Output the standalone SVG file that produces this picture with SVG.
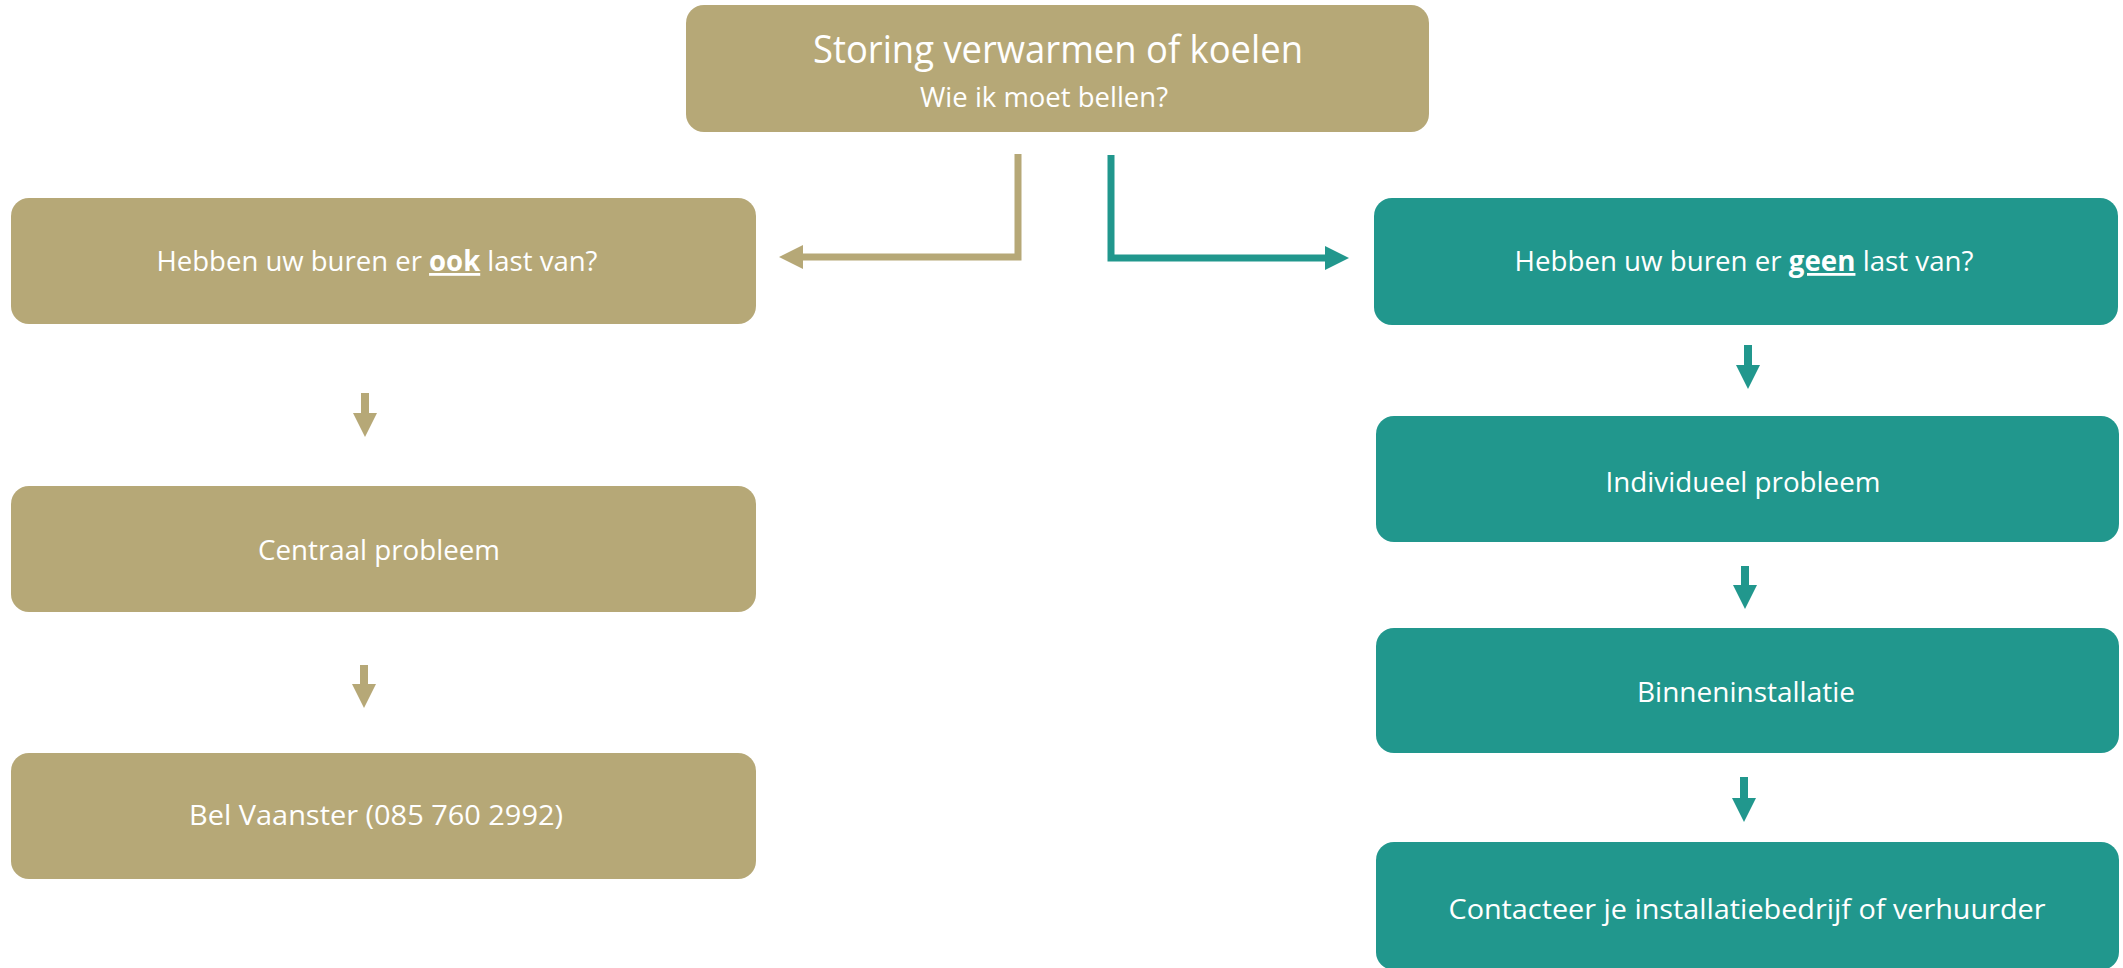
<svg xmlns="http://www.w3.org/2000/svg" width="2123" height="968" viewBox="0 0 2123 968">
<style>
.gold{fill:#B6A877}
.teal{fill:#21978D}
text{font-family:"Open Sans","Noto Sans","DejaVu Sans",sans-serif;fill:#FFFFFF;text-anchor:middle}
.t{font-size:28px}
.title{font-size:38px}
.sub{font-size:28px}
.em{font-weight:700;text-decoration:underline}
.cg{fill:none;stroke:#B6A877;stroke-width:7;stroke-linejoin:miter}
.ct{fill:none;stroke:#21978D;stroke-width:7;stroke-linejoin:miter}
.dg{fill:none;stroke:#B6A877;stroke-width:8}
.dt{fill:none;stroke:#21978D;stroke-width:8}
</style>
<defs>
<marker id="ag" markerUnits="userSpaceOnUse" markerWidth="24" markerHeight="24" refX="2" refY="12" orient="auto" viewBox="0 0 24 24"><path d="M0,0 L24,12 L0,24 z" fill="#B6A877"/></marker>
<marker id="at" markerUnits="userSpaceOnUse" markerWidth="24" markerHeight="24" refX="2" refY="12" orient="auto" viewBox="0 0 24 24"><path d="M0,0 L24,12 L0,24 z" fill="#21978D"/></marker>
</defs>
<rect width="2123" height="968" fill="#FFFFFF"/>

<g id="start">
<rect class="gold" x="686" y="5" width="743" height="127" rx="18"/>
<text class="title" x="1058" y="63" textLength="490" lengthAdjust="spacingAndGlyphs">Storing verwarmen of koelen</text>
<text class="sub" x="1044" y="107" textLength="248" lengthAdjust="spacingAndGlyphs">Wie ik moet bellen?</text>
</g>

<g id="ook">
<rect class="gold" x="11" y="198" width="745" height="126" rx="18"/>
<text class="t" x="377" y="271" textLength="441" lengthAdjust="spacingAndGlyphs">Hebben uw buren er <tspan class="em">ook</tspan> last van?</text>
</g>

<g id="centraal">
<rect class="gold" x="11" y="486" width="745" height="126" rx="18"/>
<text class="t" x="379" y="560" textLength="242" lengthAdjust="spacingAndGlyphs">Centraal probleem</text>
</g>

<g id="bel">
<rect class="gold" x="11" y="753" width="745" height="126" rx="18"/>
<text class="t" x="376" y="825" textLength="374" lengthAdjust="spacingAndGlyphs">Bel Vaanster (085 760 2992)</text>
</g>

<g id="geen">
<rect class="teal" x="1374" y="198" width="744" height="127" rx="18"/>
<text class="t" x="1744" y="271" textLength="459" lengthAdjust="spacingAndGlyphs">Hebben uw buren er <tspan class="em">geen</tspan> last van?</text>
</g>

<g id="individueel">
<rect class="teal" x="1376" y="416" width="743" height="126" rx="18"/>
<text class="t" x="1743" y="492" textLength="275" lengthAdjust="spacingAndGlyphs">Individueel probleem</text>
</g>

<g id="binnen">
<rect class="teal" x="1376" y="628" width="743" height="125" rx="18"/>
<text class="t" x="1746" y="702" textLength="218" lengthAdjust="spacingAndGlyphs">Binneninstallatie</text>
</g>

<g id="contact">
<rect class="teal" x="1376" y="842" width="743" height="128" rx="18"/>
<text class="t" x="1747" y="919" textLength="597" lengthAdjust="spacingAndGlyphs">Contacteer je installatiebedrijf of verhuurder</text>
</g>

<g id="connectors">
<path class="cg" d="M1018,154 V257 H801" marker-end="url(#ag)"/>
<path class="ct" d="M1111,155 V258 H1327" marker-end="url(#at)"/>
<path class="dg" d="M365,393 V415" marker-end="url(#ag)"/>
<path class="dg" d="M364,665 V686" marker-end="url(#ag)"/>
<path class="dt" d="M1748,345 V367" marker-end="url(#at)"/>
<path class="dt" d="M1745,566 V587" marker-end="url(#at)"/>
<path class="dt" d="M1744,777 V800" marker-end="url(#at)"/>
</g>
</svg>
